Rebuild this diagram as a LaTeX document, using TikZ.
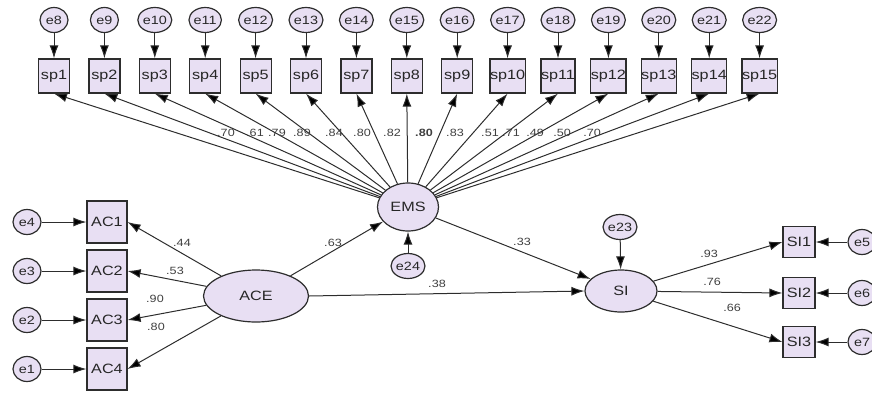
\documentclass[tikz,border=0pt]{standalone}
\usepackage{fontspec}
\setmainfont{Liberation Sans}[FakeStretch=1.2]
\usetikzlibrary{arrows.meta,shapes.geometric}
\definecolor{lav}{RGB}{232,223,243}
\definecolor{edgec}{RGB}{45,45,45}
\begin{document}
\begin{tikzpicture}[x=1pt,y=-1pt,
 obs/.style={draw=edgec, line width=1.2pt, fill=lav, minimum width=31pt, minimum height=34pt, inner sep=0pt, text=black!85, font=\fontsize{13.5}{13.5}\selectfont},
 acbox/.style={obs, minimum width=40pt, minimum height=42pt},
 sibox/.style={obs, minimum width=32pt, minimum height=31pt},
 err/.style={ellipse, draw=edgec, line width=1.2pt, fill=lav, minimum width=28pt, minimum height=25pt, inner sep=0pt, text=black!85, font=\fontsize{12}{12}\selectfont},
 lat/.style={ellipse, draw=edgec, line width=1.2pt, fill=lav, inner sep=0pt, text=black!85, font=\fontsize{13.5}{13.5}\selectfont},
 arr/.style={draw=edgec, line width=1pt, -{Latex[length=13pt,width=9pt,fill=black]}},
 lab/.style={font=\fontsize{10.5}{10.5}\selectfont, text=black!75, inner sep=0pt}]
\useasboundingbox (0,0) rectangle (872,394);

% latent variables
\node[lat, minimum width=61pt, minimum height=48pt] (EMS) at (408,207) {EMS};
\node[lat, minimum width=105pt, minimum height=52pt] (ACE) at (256,296) {ACE};
\node[lat, minimum width=72pt, minimum height=42pt] (SI) at (621,291) {SI};
\node[err] (e24) at (408,266) {e24};
\node[err] (e23) at (620,227) {e23};

% top indicators
\foreach \i [evaluate=\i as \x using 54+50.4*(\i-1), evaluate=\i as \e using int(\i+7)] in {1,...,15} {
  \node[obs] (sp\i) at (\x,76) {sp\i};
  \node[err] (e\e) at (\x,20) {e\e};
  \draw[arr] (e\e) -- (sp\i);
  \draw[arr] (EMS) -- (sp\i.south);
}

% AC indicators
\foreach \i/\y/\e in {1/222/4, 2/271/3, 3/320/2, 4/369/1} {
  \node[acbox] (AC\i) at (107,\y) {AC\i};
  \node[err] (e\e) at (27,\y) {e\e};
  \draw[arr] (e\e) -- (AC\i);
  \draw[arr] (ACE) -- (AC\i.east);
}

% SI indicators
\foreach \i/\y/\e in {1/242/5, 2/293/6, 3/342/7} {
  \node[sibox] (SI\i) at (799,\y) {SI\i};
  \node[err] (e\e) at (862,\y) {e\e};
  \draw[arr] (e\e) -- (SI\i);
  \draw[arr] (SI) -- (SI\i.west);
}

% structural paths
\draw[arr] (e24) -- (EMS);
\draw[arr] (e23) -- (SI);
\draw[arr] (ACE) -- (EMS);
\draw[arr] (EMS) -- (SI);
\draw[arr] (ACE.east) -- (SI.west);

% loading labels
\foreach \x/\t [count=\k] in {226/.70, 255/.61, 277/.79, 302/.89, 334/.84, 362/.80, 392/.82, 455/.83, 490/.51, 511/.71, 535/.49, 562/.50, 592/.70} {
  \node[lab] (lf\k) at (\x,133) {\t};
}
\node[lab, font=\fontsize{10.5}{10.5}\bfseries] (lf14) at (424,133) {.80};
\node[lab] (l44) at (182,243) {.44};
\node[lab] (l53) at (175,271) {.53};
\node[lab] (l90) at (155,299) {.90};
\node[lab] (l80) at (156,327) {.80};
\node[lab] (l63) at (333,243) {.63};
\node[lab] (l33) at (522,242) {.33};
\node[lab] (l38) at (437,284) {.38};
\node[lab] (l93) at (709,254) {.93};
\node[lab] (l76) at (712,282) {.76};
\node[lab] (l66) at (732,308) {.66};
\end{tikzpicture}
\end{document}
